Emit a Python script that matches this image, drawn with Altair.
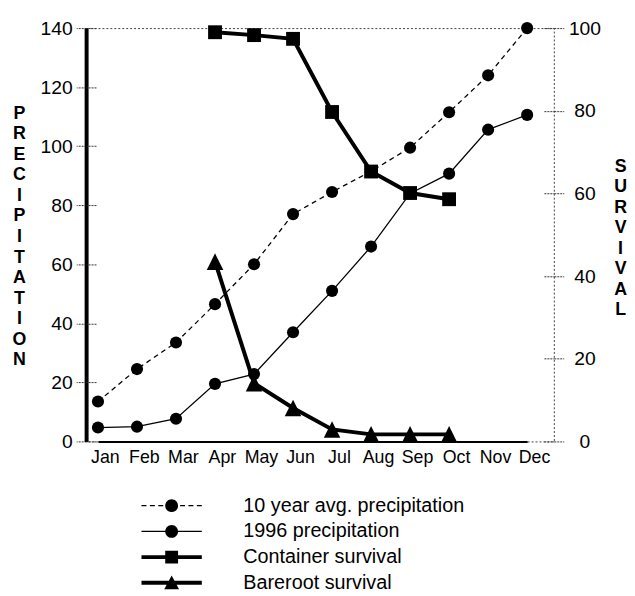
import altair as alt
import pandas as pd

months = ["Jan", "Feb", "Mar", "Apr", "May", "Jun", "Jul", "Aug", "Sep", "Oct", "Nov", "Dec"]
avg_precip = [13.5, 24.5, 33.5, 46.5, 60, 77, 84.5, 91.5, 99.5, 111.5, 124, 140]
precip_1996 = [4.7, 5, 7.7, 19.5, 22.8, 37, 51, 66, 84, 90.7, 105.6, 110.6]
surv_months = ["Apr", "May", "Jun", "Jul", "Aug", "Sep", "Oct"]
container = [99.0, 98.3, 97.4, 79.7, 65.3, 60.1, 58.6]
bareroot = [43.5, 14.1, 8.1, 2.9, 1.7, 1.7, 1.7]
series_names = ["10 year avg. precipitation", "1996 precipitation",
                "Container survival", "Bareroot survival"]
precip_ticks = [0, 20, 40, 60, 80, 100, 120, 140]
surv_ticks = [0, 20, 40, 60, 80, 100]

FONT = "Liberation Sans"

# legend glyphs (line + marker) as custom symbol paths
def dash_segs(half):
    segs = [(-3.05, -2.55), (-2.2, -1.7), (-1.35, -0.85), (0.85, 1.35), (1.7, 2.2), (2.55, 3.05)]
    return "".join(f"M{a},{-half}H{b}V{half}H{a}Z" for a, b in segs)

circle = "M-0.65,0A0.65,0.65 0 1,1 0.65,0A0.65,0.65 0 1,1 -0.65,0Z"
thin_line = "M-3.05,-0.06H3.05V0.06H-3.05Z"
thick_line = "M-3.05,-0.2H3.05V0.2H-3.05Z"
square = "M-0.65,-0.65H0.65V0.65H-0.65Z"
triangle = "M0,-0.75L0.75,0.65L-0.75,0.65Z"
glyphs = [dash_segs(0.06) + circle, thin_line + circle, thick_line + square, thick_line + triangle]

avg_df = pd.DataFrame({"month": months, "value": avg_precip})
p96_df = pd.DataFrame({"month": months, "value": precip_1996})
cont_df = pd.DataFrame({"month": surv_months, "value": container})
bare_df = pd.DataFrame({"month": surv_months, "value": bareroot})
leg_df = pd.DataFrame({"series": series_names})

x_enc = alt.X(
    "month:O", sort=months,
    scale=alt.Scale(type="point", domain=months, range=[12, 446], padding=0),
    axis=alt.Axis(title=None, labelAngle=0, ticks=False, tickSize=0, labelPadding=7,
                  labelOffset=7, labelFont=FONT, labelFontSize=18, labelColor="black",
                  domainColor="black", domainWidth=2, grid=False),
)

p_scale = alt.Scale(domain=[0, 140], nice=False)
s_scale = alt.Scale(domain=[0, 100], nice=False)

tick_style = dict(tickColor="#333", tickDash=[2, 1], tickWidth=1, grid=False)

# main left axis (outer half of ticks, labels, title, thick domain)
y_p = alt.Y(
    "value:Q", scale=p_scale,
    axis=alt.Axis(orient="left", values=precip_ticks, title=list("PRECIPITATION"),
                  titleAngle=0, titleX=-68, titleY=86, titleAlign="center",
                  titleBaseline="middle", titleFont=FONT, titleFontSize=18,
                  titleFontWeight="bold", titleLineHeight=20.8, titleColor="black",
                  labelFont=FONT, labelFontSize=19.5, labelColor="black", labelPadding=4,
                  tickSize=10, domainColor="black", domainWidth=4, **tick_style),
)
# inner half of the left ticks
y_p_in = alt.Y(
    "value:Q", scale=p_scale,
    axis=alt.Axis(orient="left", values=precip_ticks, title=None, labels=False,
                  domain=False, offset=-10, tickSize=10, **tick_style),
)
y_p_none = alt.Y("value:Q", scale=p_scale, axis=None)

# main right axis
y_s = alt.Y(
    "value:Q", scale=s_scale,
    axis=alt.Axis(orient="right", values=surv_ticks, title=list("SURVIVAL"),
                  titleAngle=0, titleX=67, titleY=140, titleAlign="center",
                  titleBaseline="middle", titleFont=FONT, titleFontSize=18,
                  titleFontWeight="bold", titleLineHeight=20.7, titleColor="black",
                  labelFont=FONT, labelFontSize=19.5, labelColor="black", labelPadding=21,
                  labelAlign="center", tickSize=10, domain=False, **tick_style),
)
y_s_in = alt.Y(
    "value:Q", scale=s_scale,
    axis=alt.Axis(orient="right", values=surv_ticks, title=None, labels=False,
                  domain=False, offset=-10, tickSize=10, **tick_style),
)
y_s_none = alt.Y("value:Q", scale=s_scale, axis=None)

avg_line = alt.Chart(avg_df).mark_line(color="black", strokeWidth=1.3, strokeDash=[5, 4]).encode(x=x_enc, y=y_p)
avg_pts = alt.Chart(avg_df).mark_point(filled=True, shape="circle", size=150, color="black",
                                       opacity=1, strokeWidth=0).encode(x=x_enc, y=y_p_in)
p96_line = alt.Chart(p96_df).mark_line(color="black", strokeWidth=1.3).encode(x=x_enc, y=y_p_none)
p96_pts = alt.Chart(p96_df).mark_point(filled=True, shape="circle", size=150, color="black",
                                       opacity=1, strokeWidth=0).encode(x=x_enc, y=y_p_none)

legend_layer = alt.Chart(leg_df).mark_point(filled=True, color="black", opacity=0).encode(
    shape=alt.Shape(
        "series:N", sort=series_names,
        scale=alt.Scale(domain=series_names, range=glyphs),
        legend=alt.Legend(orient="none", legendX=76.5, legendY=473, direction="vertical",
                          title=None, symbolSize=400, symbolStrokeWidth=0, symbolOpacity=1,
                          symbolFillColor="black", labelFont=FONT, labelFontSize=20,
                          labelColor="black", labelOffset=62.5, rowPadding=6, padding=0,
                          labelLimit=400),
    )
)

cont_line = alt.Chart(cont_df).mark_line(color="black", strokeWidth=4).encode(x=x_enc, y=y_s)
cont_pts = alt.Chart(cont_df).mark_point(filled=True, shape="square", size=196, color="black",
                                         opacity=1, strokeWidth=0).encode(x=x_enc, y=y_s_in)
bare_line = alt.Chart(bare_df).mark_line(color="black", strokeWidth=4).encode(x=x_enc, y=y_s_none)
bare_pts = alt.Chart(bare_df).mark_point(filled=True, shape="M0,-1L1,1L-1,1Z", size=280,
                                         color="black", opacity=1, strokeWidth=0).encode(x=x_enc, y=y_s_none)

precip = alt.layer(avg_line, avg_pts, p96_line, p96_pts, legend_layer).resolve_axis(y="independent")
surv = alt.layer(cont_line, cont_pts, bare_line, bare_pts).resolve_axis(y="independent")

chart = alt.layer(precip, surv).resolve_scale(y="independent").properties(
    width=473, height=418,
    autosize=alt.AutoSizeParams(type="none"),
    padding={"left": 79, "top": 17, "right": 74, "bottom": 153},
    background="white",
).configure_view(stroke="#444", strokeDash=[2, 2], strokeWidth=1)

chart.save("out.html", embed_options={"renderer": "svg", "actions": False})
